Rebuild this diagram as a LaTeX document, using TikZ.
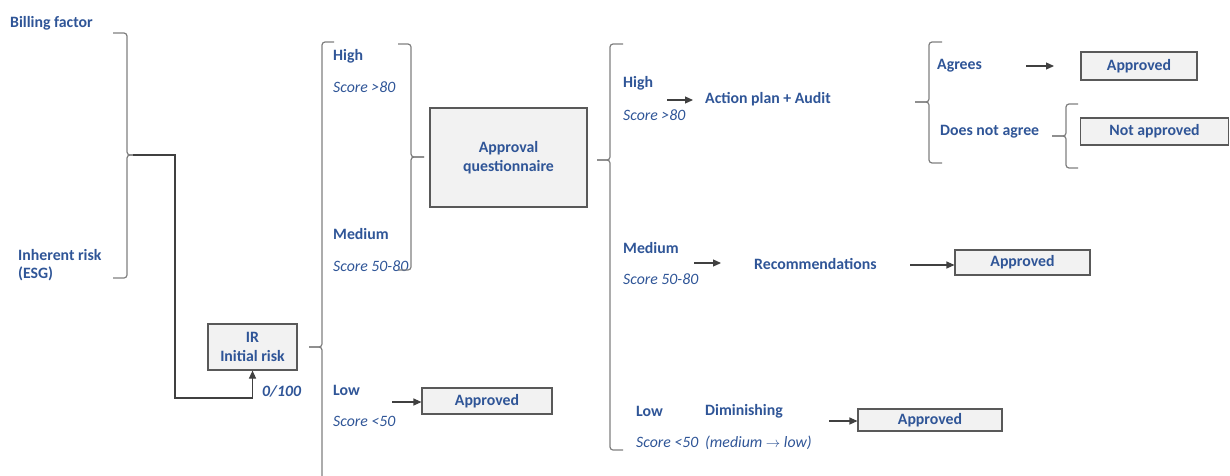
\documentclass[tikz,border=0pt]{standalone}
\usepackage{fontspec}
\setmainfont{Carlito}
\usetikzlibrary{arrows.meta}
\definecolor{txt}{HTML}{2F5597}
\definecolor{brc}{HTML}{7F7F7F}
\definecolor{lin}{HTML}{404040}
\definecolor{boxfill}{HTML}{F2F2F2}
\definecolor{boxline}{HTML}{595959}
\newcommand\fs{\fontsize{15.8}{19.5}\selectfont}
\tikzset{
  lbl/.style={font=\fs\bfseries, text=txt, anchor=west, inner sep=0pt, yshift=-1.5pt},
  score/.style={font=\fs\itshape, text=txt, anchor=west, inner sep=0pt, yshift=-1.5pt},
  result/.style={draw=boxline, line width=1.1pt, fill=boxfill, font=\fs\bfseries,
    text=txt, inner sep=0pt, align=center},
  brace/.style={draw=brc, line width=1.2pt, rounded corners=3pt},
  conn/.style={draw=lin, line width=1.1pt},
  arr/.style={conn, -{Triangle[length=8pt,width=7pt]}},
}
% brace opening to the right: x, top, bottom, middle, tip x, tick end x
\newcommand\openR[6]{%
  \draw[brace] (#6,#2) -- (#1,#2) -- (#1,#4) -- (#5,#4);
  \draw[brace] (#6,#3) -- (#1,#3) -- (#1,#4) -- (#5,#4);}
\begin{document}
\begin{tikzpicture}[x=1pt,y=-1pt]
\useasboundingbox (0,0) rectangle (1230,475);

% inputs
\node[lbl] (bill) at (10,22) {Billing factor};
\node[lbl] (inh) at (18,254) {Inherent risk};
\node[lbl] (esg) at (18,272) {(ESG)};
\openR{127}{33}{278}{155}{133}{113}
\coordinate (b1tip) at (133,155);
\coordinate (c1) at (175,398);

% initial risk
\node[result, minimum width=89pt, minimum height=46pt] (ir) at (252.5,347) {IR\\Initial risk};
\draw[arr] (b1tip) -| (c1) -| (ir.south);
\node[lbl, font=\fs\bfseries\itshape] (ir100) at (262,390) {0/100};

% first level of scores
\draw[brace] (334,42) -- (322,42) -- (322,347) -- (309,347);
\draw[brace] (322,476) -- (322,347) -- (309,347);
\node[lbl] (h1) at (333,55) {High};
\node[score] (h1s) at (333,86) {Score >80};
\node[lbl] (m1) at (333,233) {Medium};
\node[score] (m1s) at (333,265) {Score 50-80};
\node[lbl] (l1) at (333,389) {Low};
\node[score] (l1s) at (333,420) {Score <50};
\node[result, minimum width=130pt, minimum height=26pt] (ap1) at (487,401) {Approved};
\coordinate (a1) at (392,402);
\draw[arr] (a1) -- (a1 -| ap1.west);

% high and medium go to the questionnaire
\openR{411}{44}{270}{157}{424}{398}
\node[result, minimum width=157pt, minimum height=99pt] (quest) at (508.5,157.5) {Approval\\questionnaire};

% outcome of the questionnaire
\openR{610}{44}{450}{160}{597}{623}
\node[lbl] (h2) at (623,82) {High};
\node[score] (h2s) at (623,114) {Score >80};
\coordinate (a2) at (667,100);
\node[lbl] (act) at (705,98) {Action plan + Audit};
\draw[arr] (a2) -- (693,100);

\node[lbl] (m2) at (623,247) {Medium};
\node[score] (m2s) at (623,278) {Score 50-80};
\coordinate (a3) at (694,263);
\node[lbl] (rec) at (754,262) {Recommendations};
\draw[arr] (a3) -- (721,263);
\node[result, minimum width=135pt, minimum height=25pt] (ap2) at (1022.5,262.5) {Approved};
\coordinate (a4) at (910,265);
\draw[arr] (a4) -- (a4 -| ap2.west);

\node[lbl] (l2) at (636,410) {Low};
\node[lbl] (dim) at (705,410) {Diminishing};
\node[score] (l2s) at (636,441) {Score <50};
\node[score] (ml) at (705,441) {(medium $\rightarrow$ low)};
\node[result, minimum width=144pt, minimum height=22pt] (ap3) at (930,420) {Approved};
\coordinate (a5) at (829,421);
\draw[arr] (a5) -- (a5 -| ap3.west);

% agreement with the action plan
\openR{929}{42}{163}{102}{915}{942}
\node[lbl] (agr) at (937,64) {Agrees};
\coordinate (a6) at (1026,66);
\draw[arr] (a6) -- (1054,66);
\node[result, minimum width=116pt, minimum height=28pt] (ap4) at (1139,66) {Approved};
\node[lbl] (dna) at (940,130) {Does not agree};
\openR{1066}{104}{168}{136}{1052}{1078}
\node[result, minimum width=148pt, minimum height=27pt] (nap) at (1154.5,131.5) {Not approved};
\end{tikzpicture}
\end{document}
